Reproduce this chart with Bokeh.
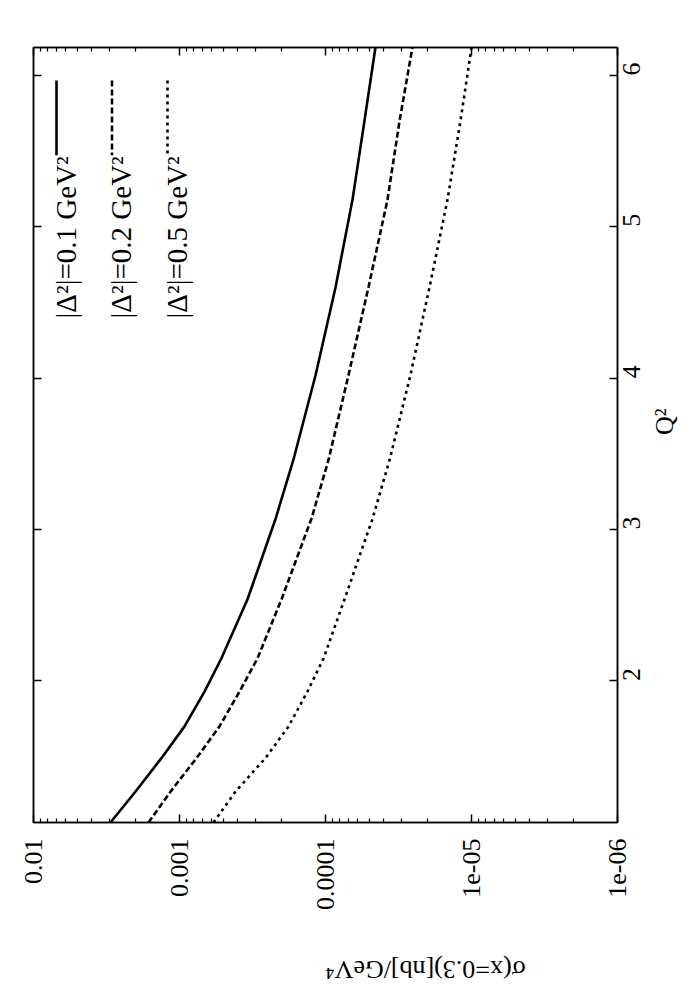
import math
from bokeh.plotting import figure
from bokeh.models import Range1d, LinearAxis, LogAxis, FixedTicker, CustomJSTickFormatter
from bokeh.core.properties import value
from bokeh.embed import file_html
from bokeh.resources import INLINE

# ---------------- data ----------------
q2 = [1.065, 1.27, 1.49, 1.7, 1.93, 2.15, 2.54, 3.07, 3.46, 4.02, 4.6, 5.18, 5.7, 6.185]
sigma_d01 = [2.97e-3, 2.00e-3, 1.33e-3, 9.24e-4, 6.74e-4, 5.16e-4, 3.42e-4,
             2.20e-4, 1.66e-4, 1.17e-4, 8.54e-5, 6.53e-5, 5.41e-5, 4.55e-5]
sigma_d02 = [1.63e-3, 1.15e-3, 7.65e-4, 5.32e-4, 3.88e-4, 2.92e-4, 2.00e-4,
             1.25e-4, 9.54e-5, 6.96e-5, 5.08e-5, 3.76e-5, 3.11e-5, 2.54e-5]
sigma_d05 = [5.85e-4, 4.13e-4, 2.58e-4, 1.79e-4, 1.33e-4, 1.03e-4, 7.41e-5,
             4.77e-5, 3.64e-5, 2.62e-5, 1.94e-5, 1.46e-5, 1.19e-5, 1.0e-5]
legend_labels = ["|Δ²|=0.1 GeV²", "|Δ²|=0.2 GeV²", "|Δ²|=0.5 GeV²"]
sigma_ticks = [1e-2, 1e-3, 1e-4, 1e-5, 1e-6]
sigma_tick_labels = ["0.01", "0.001", "0.0001", "1e-05", "1e-06"]
q2_ticks = [2, 3, 4, 5, 6]
x_label = "σ(x=0.3)[nb]/GeV⁴"
y_label = "Q²"

FONT = "Liberation Serif"
SIG_MAX, SIG_MIN = 1e-2, 1e-6
Q_MIN, Q_MAX = 1.065, 6.185

p = figure(width=700, height=1000, x_axis_type="log",
           x_range=Range1d(SIG_MAX, SIG_MIN), y_range=Range1d(Q_MIN, Q_MAX),
           y_axis_location="right", output_backend="svg", toolbar_location=None,
           min_border_left=33, min_border_top=47, min_border_right=83,
           min_border_bottom=176)
p.grid.visible = False
p.outline_line_color = "black"
p.outline_line_width = 1.5
p.background_fill_color = "white"
p.border_fill_color = "white"

minor = [m * 10.0 ** e for e in range(-6, -2) for m in range(2, 10)]
sig_ticker = FixedTicker(ticks=sigma_ticks, minor_ticks=minor)
sig_fmt = CustomJSTickFormatter(args=dict(vals=sigma_ticks, labs=sigma_tick_labels), code="""
for (let i = 0; i < vals.length; i++) {
  if (Math.abs(Math.log10(tick) - Math.log10(vals[i])) < 1e-6) return labs[i];
}
return '';
""")
blank = CustomJSTickFormatter(code="return '';")

def style(ax):
    ax.axis_line_color = "black"
    ax.axis_line_width = 1.5
    ax.major_tick_line_color = "black"
    ax.major_tick_line_width = 1.5
    ax.minor_tick_line_color = "black"
    ax.minor_tick_line_width = 1.2
    ax.major_tick_in = 8
    ax.major_tick_out = 0
    ax.minor_tick_in = 4
    ax.minor_tick_out = 0
    ax.major_label_text_font = FONT
    ax.major_label_text_font_size = "26px"
    ax.major_label_text_color = "black"
    ax.major_label_text_line_height = 1.0
    ax.axis_label_text_font = FONT
    ax.axis_label_text_font_size = "26px"
    ax.axis_label_text_font_style = "normal"
    ax.axis_label_text_color = "black"
    ax.axis_label_text_line_height = 1.0

xa = p.xaxis[0]
style(xa)
xa.ticker = sig_ticker
xa.formatter = sig_fmt
xa.major_label_orientation = math.pi / 2
xa.major_label_standoff = 16
xa.axis_label = x_label
xa.axis_label_standoff = 56
if "axis_label_orientation" in xa.properties():
    xa.axis_label_orientation = math.pi

ya = p.yaxis[0]
style(ya)
ya.ticker = FixedTicker(ticks=q2_ticks)
ya.minor_tick_line_color = None
ya.major_label_orientation = math.pi / 2
ya.major_label_standoff = 14
ya.axis_label = y_label
ya.axis_label_standoff = 13
if "axis_label_orientation" in ya.properties():
    ya.axis_label_orientation = math.pi / 2

top = LogAxis(ticker=sig_ticker, formatter=blank)
style(top)
top.major_label_text_font_size = "1px"
top.major_label_standoff = 0
p.add_layout(top, "above")

left = LinearAxis(ticker=FixedTicker(ticks=q2_ticks), formatter=blank)
style(left)
left.minor_tick_line_color = None
left.major_label_text_font_size = "1px"
left.major_label_standoff = 0
p.add_layout(left, "left")

# ---------------- curves ----------------
dashes = ["solid", "6 3", "3 4"]
series = [sigma_d01, sigma_d02, sigma_d05]
for s, d in zip(series, dashes):
    p.line(x=s, y=q2, line_color="black", line_width=2.6, line_dash=d,
           line_join="round")

# ---------------- legend (rotated, top-left) ----------------
FRAME_W, FRAME_H = 584, 777
dec_per_px = math.log10(SIG_MAX / SIG_MIN) / FRAME_W
q_per_px = (Q_MAX - Q_MIN) / FRAME_H

def sig_at(px):
    return 10 ** (math.log10(SIG_MAX) - px * dec_per_px)

def q_at(px):
    return Q_MAX - px * q_per_px

for i, (lab, d) in enumerate(zip(legend_labels, dashes)):
    lx = 23 + 55.5 * i
    p.line(x=[sig_at(lx), sig_at(lx)], y=[q_at(33), q_at(108)],
           line_color="black", line_width=2.6, line_dash=d)
    p.text(x=[sig_at(lx + 9)], y=[q_at(109)], text=[lab], angle=math.pi / 2,
           text_align="right", text_baseline="middle",
           text_font=value(FONT), text_font_size="29px", text_color="black")

open("out.html", "w").write(file_html(p, INLINE))
